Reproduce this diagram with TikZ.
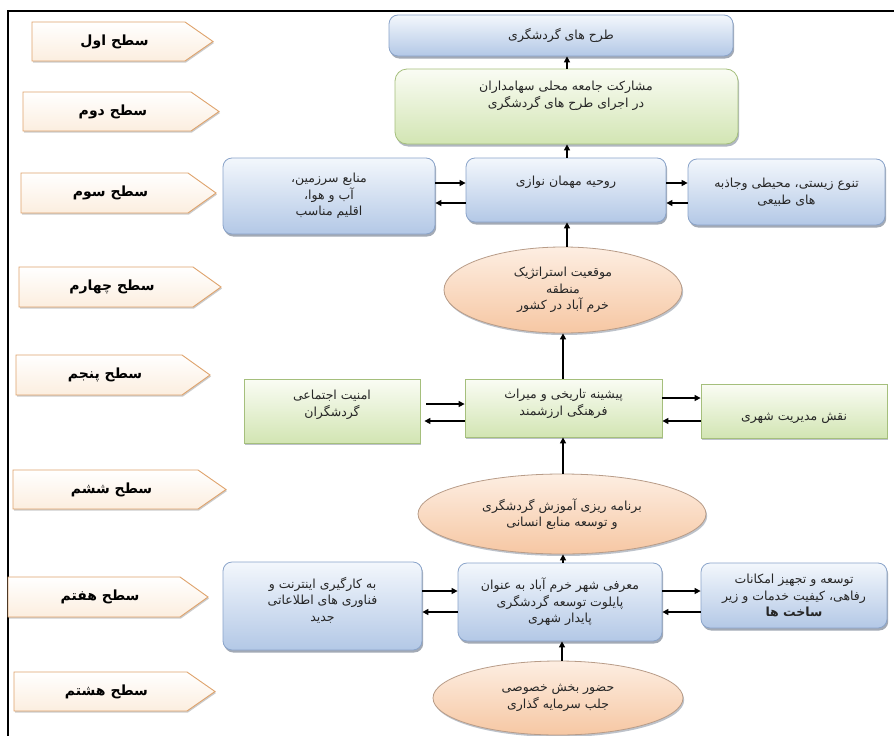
\documentclass[tikz,border=0pt]{standalone}
\usepackage{fontspec}
\setmainfont{DejaVu Sans}
\newfontfamily\fa[Script=Arabic]{DejaVu Sans}
\TeXXeTstate=1
\usetikzlibrary{shapes.geometric,shadows,arrows.meta}
\definecolor{blueTop}{HTML}{F3F7FC}
\definecolor{blueBot}{HTML}{B3C8E6}
\definecolor{blueDraw}{HTML}{8AA4CA}
\definecolor{greenTop}{HTML}{FAFCF4}
\definecolor{greenBot}{HTML}{D2E5B3}
\definecolor{greenDraw}{HTML}{A5BF7C}
\definecolor{ovalTop}{HTML}{FDEEE2}
\definecolor{ovalBot}{HTML}{F6C7A3}
\definecolor{ovalDraw}{HTML}{B89C88}
\definecolor{tagBot}{HTML}{FCEEDF}
\definecolor{tagDraw}{HTML}{DFA36C}
\definecolor{shadowC}{HTML}{7C8797}
\newcommand\boxfont{\fa\fontsize{12.5}{16.5}\selectfont}
\newcommand\lvltag[6]{%
  \path[tagshape] (#2,#3) -- ({#4-28},#3) -- (#4,{(#3+#5)/2}) -- ({#4-28},#5) -- (#2,#5) -- cycle;
  \node[tagtext] (#1) at ({(#2+#4-28)/2+6},{(#3+#5)/2}) {#6};
}
\tikzset{
  common/.style={align=center, font=\boxfont, text=black!85, inner sep=2pt, line width=0.8pt},
  bluebox/.style={common, rounded corners=9pt, draw=blueDraw, top color=blueTop, bottom color=blueBot,
    drop shadow={shadow xshift=1.2pt, shadow yshift=-2.5pt, fill=shadowC, opacity=0.7}},
  greenbox/.style={common, rounded corners=12pt, draw=greenDraw, top color=greenTop, bottom color=greenBot,
    drop shadow={shadow xshift=1.2pt, shadow yshift=-2.5pt, fill=shadowC, opacity=0.6}},
  greenrect/.style={common, draw=greenDraw, top color=greenTop, bottom color=greenBot,
    drop shadow={shadow xshift=1.2pt, shadow yshift=-2pt, fill=shadowC, opacity=0.5}},
  ovalnode/.style={common, ellipse, inner sep=0pt, draw=ovalDraw, top color=ovalTop, bottom color=ovalBot,
    drop shadow={shadow xshift=1.2pt, shadow yshift=-2pt, fill=shadowC, opacity=0.5}},
  plaintext/.style={align=center, font=\boxfont, text=black!85, inner sep=0pt},
  tagshape/.style={draw=tagDraw, line width=0.9pt, top color=white, bottom color=tagBot,
    drop shadow={shadow xshift=1pt, shadow yshift=-1.5pt, fill=gray, opacity=0.4}},
  tagtext/.style={font=\fa\bfseries\fontsize{14}{16}\selectfont, text=black, inner sep=0pt},
  arr/.style={line width=1.4pt, -{Triangle[length=6pt,width=6pt]}},
}
\begin{document}
\begin{tikzpicture}[x=1pt,y=-1pt]
\useasboundingbox (0,0) rectangle (894,736);
\fill[white] (0,0) rectangle (894,736);
% frame
\draw[line width=1.3pt] (8,736) -- (8,11) -- (894,11);

% level tags
\lvltag{l1}{32}{22}{213}{61}{\beginR سطح اول\endR}
\lvltag{l2}{23}{92}{219}{131}{\beginR سطح دوم\endR}
\lvltag{l3}{21}{173}{216}{213}{\beginR سطح سوم\endR}
\lvltag{l4}{19}{267}{221}{307}{\beginR سطح چهارم\endR}
\lvltag{l5}{16}{355}{210}{395}{\beginR سطح پنجم\endR}
\lvltag{l6}{13}{470}{226}{509}{\beginR سطح ششم\endR}
\lvltag{l7}{8}{577}{208}{617}{\beginR سطح هفتم\endR}
\lvltag{l8}{14}{672}{215}{711}{\beginR سطح هشتم\endR}

% level 1
\node[bluebox, minimum width=344pt, minimum height=41pt] (T1) at (561,35.5) {\beginR طرح های گردشگری\endR};
% level 2
\node[greenbox, minimum width=343pt, minimum height=75pt] (G2) at (566.5,106.5) {};
\node[plaintext] (G2t) at (566,96) {\beginR مشارکت جامعه محلی سهامداران\endR\\\beginR در اجرای طرح های گردشگری\endR};
% level 3
\node[bluebox, minimum width=212pt, minimum height=76pt] (L3) at (329,196) {\beginR منابع سرزمین،\endR\\\beginR آب و هوا،\endR\\\beginR اقلیم مناسب\endR};
\node[bluebox, minimum width=200pt, minimum height=64pt] (C3) at (566,190) {};
\node[plaintext] (C3t) at (566,182) {\beginR روحیه مهمان نوازی\endR};
\node[bluebox, minimum width=197pt, minimum height=66pt] (R3) at (786.5,192) {\beginR تنوع زیستی، محیطی وجاذبه\endR\\\beginR های طبیعی\endR};
% level 4
\node[ovalnode, minimum width=238pt, minimum height=86pt] (E4) at (563,290) {\beginR موقعیت استراتژیک\endR\\\beginR منطقه\endR\\\beginR خرم آباد در کشور\endR};
% level 5
\node[greenrect, minimum width=176pt, minimum height=64pt] (L5) at (332,411) {};
\node[plaintext] (L5t) at (332,405) {\beginR امنیت اجتماعی\endR\\\beginR گردشگران\endR};
\node[greenrect, minimum width=197pt, minimum height=58pt] (C5) at (563.5,408) {};
\node[plaintext] (C5t) at (563.5,404) {\beginR پیشینه تاریخی و میراث\endR\\\beginR فرهنگی ارزشمند\endR};
\node[greenrect, minimum width=186pt, minimum height=54pt] (R5) at (794,411) {};
\node[plaintext] (R5t) at (794,418) {\beginR نقش مدیریت شهری\endR};
% level 6
\node[ovalnode, minimum width=288pt, minimum height=80pt] (E6) at (562,514) {\beginR برنامه ریزی آموزش گردشگری\endR\\\beginR و توسعه منابع انسانی\endR};
% level 7
\node[bluebox, minimum width=199pt, minimum height=88pt] (L7) at (322.5,606) {};
\node[plaintext] (L7t) at (322.5,600) {\beginR به کارگیری اینترنت و\endR\\\beginR فناوری های اطلاعاتی\endR\\\beginR جدید\endR};
\node[bluebox, minimum width=204pt, minimum height=78pt] (C7) at (560,602) {\beginR معرفی شهر خرم آباد به عنوان\endR\\\beginR پایلوت توسعه گردشگری\endR\\\beginR پایدار شهری\endR};
\node[bluebox, minimum width=186pt, minimum height=65pt] (R7) at (794,595.5) {\beginR توسعه و تجهیز امکانات\endR\\\beginR رفاهی، کیفیت خدمات و زیر\endR\\\textbf{\beginR ساخت ها\endR}};
% level 8
\node[ovalnode, minimum width=250pt, minimum height=74pt] (E8) at (558,698) {\beginR حضور بخش خصوصی\endR\\\beginR جلب سرمایه گذاری\endR};

% vertical arrows
\draw[arr] (G2.north -| 567,0) -- (T1.south -| 567,0);
\draw[arr] (C3.north -| 567,0) -- (G2.south -| 567,0);
\draw[arr] (E4.north -| 567,0) -- (C3.south -| 567,0);
\draw[arr] (C5.north -| 563,0) -- (E4.south -| 563,0);
\draw[arr] (E6.north -| 563,0) -- (C5.south -| 563,0);
\draw[arr] (C7.north -| 563,0) -- (E6.south -| 563,0);
\draw[arr] (E8.north -| 562,0) -- (C7.south -| 562,0);

% horizontal arrows level 3
\draw[arr] (L3.east |- 0,183) -- (C3.west |- 0,183);
\draw[arr] (C3.west |- 0,203) -- (L3.east |- 0,203);
\draw[arr] (C3.east |- 0,183) -- (R3.west |- 0,183);
\draw[arr] (R3.west |- 0,203) -- (C3.east |- 0,203);
% level 5
\draw[arr] ([xshift=6pt]L5.east |- 0,404) -- (C5.west |- 0,404);
\draw[arr] (C5.west |- 0,421) -- ([xshift=4pt]L5.east |- 0,421);
\draw[arr] (C5.east |- 0,398) -- (R5.west |- 0,398);
\draw[arr] (R5.west |- 0,421) -- (C5.east |- 0,421);
% level 7
\draw[arr] (L7.east |- 0,591) -- (C7.west |- 0,591);
\draw[arr] (C7.west |- 0,612) -- (L7.east |- 0,612);
\draw[arr] (C7.east |- 0,591) -- (R7.west |- 0,591);
\draw[arr] (R7.west |- 0,612) -- (C7.east |- 0,612);
\end{tikzpicture}
\end{document}
